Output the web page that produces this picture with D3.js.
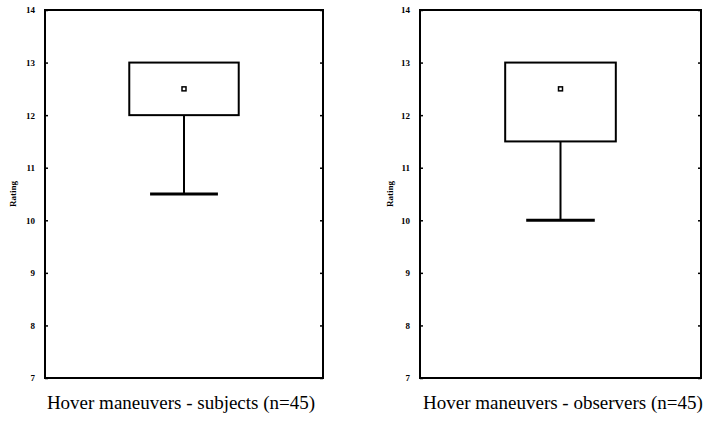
<!DOCTYPE html>
<html>
<head>
<meta charset="utf-8">
<script src="https://cdn.jsdelivr.net/npm/d3@7"></script>
<style>
  body { margin: 0; background: #fff; }
  svg { display: block; }
  .tick text { font-family: "Liberation Serif", "Times New Roman", serif; font-weight: bold; }
</style>
</head>
<body>
<script>
'use strict';

// chart values
const titles = ["Hover maneuvers - subjects (n=45)", "Hover maneuvers - observers (n=45)"];
const q1 = [12, 11.5];
const q3 = [13, 13];
const means = [12.5, 12.5];
const whiskerLow = [10.5, 10];
const whiskerHigh = [13, 13];
const yTicks = [7, 8, 9, 10, 11, 12, 13, 14];
const yLabel = "Rating";

const size = { width: 709, height: 423 };
// each panel: plot frame left/right, label x, title centre
const panels = [
  { left: 45, right: 323, labelX: 16, titleX: 181 },
  { left: 420, right: 701, labelX: 393, titleX: 563 }
];
const plotTop = 10, plotBottom = 378;

const svg = d3.select('body').append('svg')
  .attr('width', size.width)
  .attr('height', size.height);

panels.forEach((p, i) => drawPanel(p, i));

// draw one box plot panel
function drawPanel(p, i) {
  let g = svg.append('g');

  let y = d3.scaleLinear()
    .domain([7, 14])
    .range([plotBottom, plotTop]);

  let x = d3.scaleBand()
    .domain([titles[i]])
    .range([p.left, p.right])
    .paddingInner(0)
    .paddingOuter(0.77);

  // left axis with labels, small inward ticks
  let yAxis = d3.axisLeft(y).tickValues(yTicks).tickFormat(d3.format('d'))
    .tickSizeInner(-3).tickSizeOuter(0).tickPadding(10);
  let ax = g.append('g')
    .attr('transform', `translate(${p.left},0)`)
    .call(yAxis);
  ax.select('.domain').remove();
  ax.selectAll('.tick line').attr('stroke', '#000').attr('stroke-width', 1.5);
  ax.selectAll('.tick text').style('font-size', '9px').attr('fill', '#000');

  // right side ticks
  let ax2 = g.append('g')
    .attr('transform', `translate(${p.right},0)`)
    .call(d3.axisRight(y).tickValues(yTicks).tickSizeInner(-3).tickSizeOuter(0).tickFormat(''));
  ax2.select('.domain').remove();
  ax2.selectAll('.tick line').attr('stroke', '#000').attr('stroke-width', 1.5);

  // frame
  g.append('rect')
    .attr('x', p.left)
    .attr('y', plotTop)
    .attr('width', p.right - p.left)
    .attr('height', plotBottom - plotTop)
    .attr('fill', 'none')
    .attr('stroke', '#000')
    .attr('stroke-width', 2);

  let bx = x(titles[i]);
  let bw = x.bandwidth();
  let cx = bx + bw / 2;
  let capW = bw * 0.62;

  // whiskers
  g.append('line')
    .attr('x1', cx).attr('x2', cx)
    .attr('y1', y(q1[i])).attr('y2', y(whiskerLow[i]))
    .attr('stroke', '#000').attr('stroke-width', 2);
  g.append('line')
    .attr('x1', cx).attr('x2', cx)
    .attr('y1', y(q3[i])).attr('y2', y(whiskerHigh[i]))
    .attr('stroke', '#000').attr('stroke-width', 2);

  // cap
  g.append('line')
    .attr('x1', cx - capW / 2).attr('x2', cx + capW / 2)
    .attr('y1', y(whiskerLow[i])).attr('y2', y(whiskerLow[i]))
    .attr('stroke', '#000').attr('stroke-width', 3);

  // box
  g.append('rect')
    .attr('x', bx)
    .attr('y', y(q3[i]))
    .attr('width', bw)
    .attr('height', y(q1[i]) - y(q3[i]))
    .attr('fill', 'none')
    .attr('stroke', '#000')
    .attr('stroke-width', 2);

  // mean marker
  g.append('rect')
    .attr('x', cx - 2)
    .attr('y', y(means[i]) - 2)
    .attr('width', 4)
    .attr('height', 4)
    .attr('fill', '#fff')
    .attr('stroke', '#000')
    .attr('stroke-width', 1.5);

  // y label
  g.append('text')
    .attr('transform', `translate(${p.labelX},${(plotTop + plotBottom) / 2})rotate(-90)`)
    .attr('text-anchor', 'middle')
    .style('font-family', '"Liberation Serif", serif')
    .style('font-weight', 'bold')
    .style('font-size', '9px')
    .text(yLabel);

  // title
  g.append('text')
    .attr('x', p.titleX)
    .attr('y', 409)
    .attr('text-anchor', 'middle')
    .style('font-family', '"Liberation Serif", "Times New Roman", serif')
    .style('font-size', '19px')
    .text(titles[i]);
}
</script>
</body>
</html>
